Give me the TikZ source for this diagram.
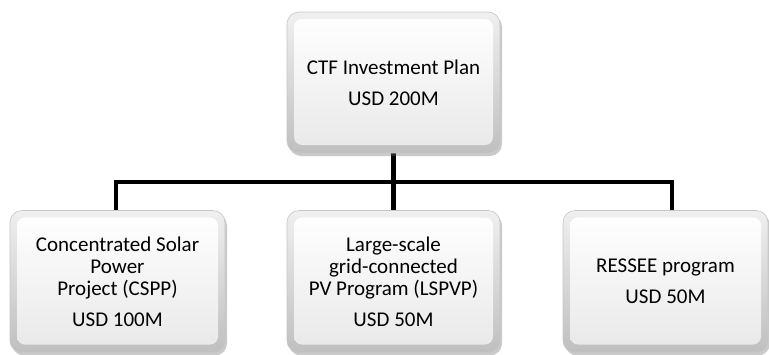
\documentclass[tikz,border=0pt]{standalone}
\usepackage{fontspec}
\setmainfont{Carlito}
\usetikzlibrary{shadows,calc}
\tikzset{
  box/.style={
    rounded corners=12pt, minimum width=#1, minimum height=141pt,
    draw=gray!45, line width=0.6pt,
    top color=gray!12, bottom color=gray!50,
    drop shadow={shadow xshift=2pt, shadow yshift=-3pt, opacity=0.35, fill=gray!80!black},
    align=center, inner sep=2pt,
    font=\fontsize{21}{22}\selectfont,
    path picture={
      \shade[rounded corners=8pt, top color=white, bottom color=gray!18]
        ([shift={(7pt,-7pt)}]path picture bounding box.north west) rectangle
        ([shift={(-7pt,8pt)}]path picture bounding box.south east);
    }
  },
  bar/.style={line width=4.5pt, line cap=rect, draw=black}
}
\begin{document}
\begin{tikzpicture}[x=1pt,y=1pt]
\useasboundingbox (0,0) rectangle (769,-354);
\coordinate (bus) at (0,-182);
% connectors (behind boxes)
\coordinate (tb) at (393.5,-150);
\coordinate (lt) at (116,-212);
\coordinate (mt) at (393.5,-212);
\coordinate (rt) at (672,-212);
\draw[bar] (tb) -- (mt);
\draw[bar, line cap=butt] (lt) -- (lt |- bus) -- (rt |- bus) -- (rt);
% boxes
\node[box=213pt] (top) at (393.5,-82.5) {CTF Investment Plan\\[9pt]USD 200M};
\node[box=215pt, minimum height=142pt] (left) at (117.5,-281.5) {Concentrated Solar\\Power\\Project (CSPP)\\[9pt]USD 100M};
\node[box=213pt, minimum height=142pt] (mid) at (393.5,-281.5) {Large-scale\\grid-connected\\PV Program (LSPVP)\\[9pt]USD 50M};
\node[box=205pt, minimum height=142pt] (right) at (665.5,-281.5) {RESSEE program\\[9pt]USD 50M};
\end{tikzpicture}
\end{document}
